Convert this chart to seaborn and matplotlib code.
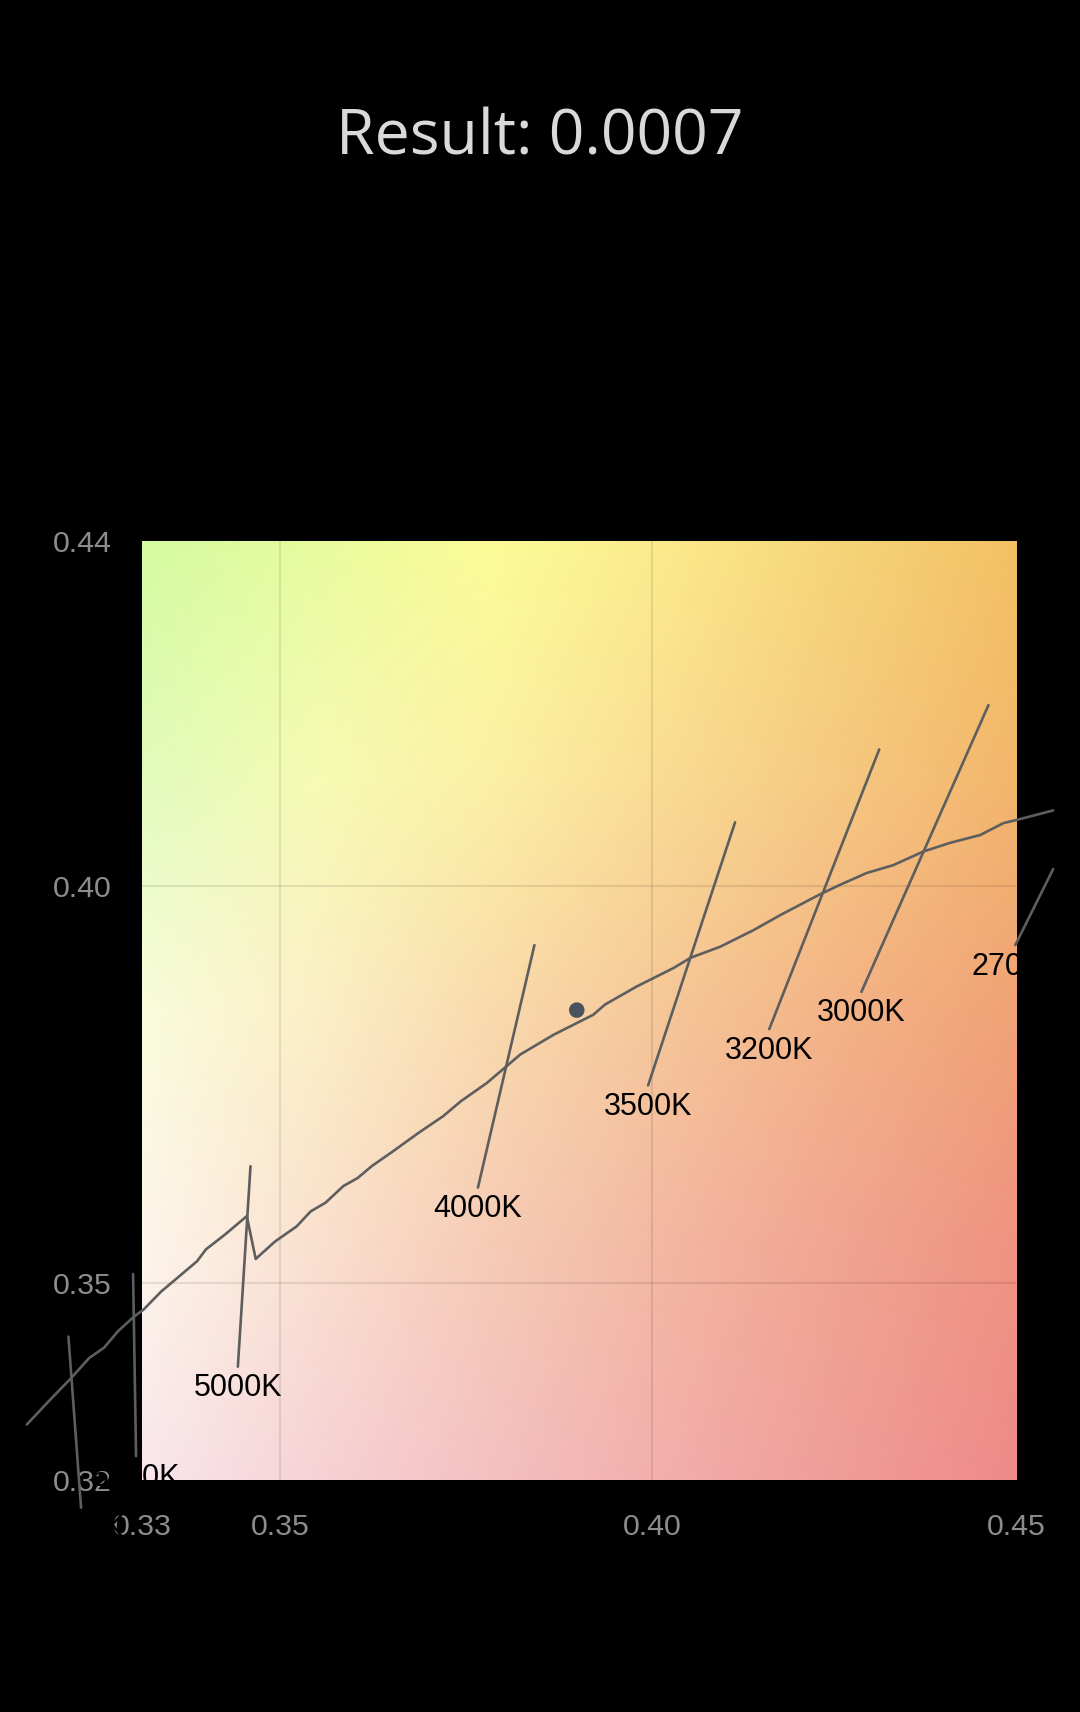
import numpy as np
import pandas as pd
import matplotlib
matplotlib.use("Agg")
import matplotlib.pyplot as plt
import seaborn as sns

# ---------------- data ----------------
title_text = "Result: 0.0007"

locus_x = [0.3159, 0.3186, 0.3219, 0.3243, 0.3263, 0.3282, 0.3303, 0.3316, 0.3340,
           0.3364, 0.3388, 0.3400, 0.3426, 0.3455, 0.3467, 0.3493, 0.3522, 0.3541,
           0.3561, 0.3585, 0.3604, 0.3623, 0.3652, 0.3686, 0.3719, 0.3743, 0.3778,
           0.3823, 0.3868, 0.3921, 0.3937, 0.3980, 0.4029, 0.4052, 0.4092, 0.4137,
           0.4173, 0.4226, 0.4253, 0.4289, 0.4325, 0.4365, 0.4401, 0.4442, 0.4473,
           0.4491, 0.4540]
locus_y = [0.3321, 0.3348, 0.3380, 0.3405, 0.3418, 0.3439, 0.3457, 0.3466, 0.3489,
           0.3508, 0.3527, 0.3542, 0.3561, 0.3584, 0.3530, 0.3552, 0.3571, 0.3590,
           0.3601, 0.3622, 0.3632, 0.3647, 0.3666, 0.3689, 0.3710, 0.3729, 0.3752,
           0.3788, 0.3813, 0.3838, 0.3851, 0.3874, 0.3897, 0.3910, 0.3924, 0.3945,
           0.3964, 0.3990, 0.4002, 0.4017, 0.4027, 0.4044, 0.4055, 0.4065, 0.4080,
           0.4084, 0.4096]

iso_labels = ["6500K", "5700K", "5000K", "4000K", "3500K", "3200K", "3000K", "2700K"]
iso_x_top = [0.3215, 0.3302, 0.3460, 0.3842, 0.4112, 0.4306, 0.4453, 0.4540]
iso_y_top = [0.3432, 0.3511, 0.3647, 0.3926, 0.4081, 0.4173, 0.4229, 0.4022]
iso_x_bot = [0.3232, 0.3306, 0.3443, 0.3766, 0.3995, 0.4158, 0.4282, 0.4489]
iso_y_bot = [0.3216, 0.3281, 0.3394, 0.3620, 0.3749, 0.3820, 0.3867, 0.3926]

point_x = [0.3899]
point_y = [0.3844]

x_limits = [0.3314, 0.4490]
y_limits = [0.3251, 0.4436]
x_tick_values = [0.3314, 0.35, 0.40, 0.4490]
x_tick_labels = ["0.33", "0.35", "0.40", "0.45"]
y_tick_values = [0.3251, 0.35, 0.40, 0.4436]
y_tick_labels = ["0.32", "0.35", "0.40", "0.44"]

# ---------------- style ----------------
grad_rows = [
    ["#d4fba0", "#e8fb9e", "#fcfc98", "#fbea8c", "#f6d478", "#f3c163"],
    ["#e2fbbc", "#f6fbb4", "#fcf0a4", "#f9dc92", "#f6c880", "#f2b66c"],
    ["#f9fcdc", "#fcefc6", "#f9daac", "#f6c698", "#f3b386", "#f1a276"],
    ["#fdf5ea", "#fae0ce", "#f6cbb6", "#f3b7a2", "#f1a490", "#ef9380"],
    ["#f9e6ec", "#f6d2d6", "#f4c0c0", "#f2aeab", "#f09c99", "#ee8a8a"],
]

sns.set_style("white", {"axes.axisbelow": True})
plt.rcParams["font.family"] = ["Liberation Sans", "DejaVu Sans"]

fig = plt.figure(figsize=(10.8, 17.12), dpi=100, facecolor="black")
ax = fig.add_axes([0.13148, 0.13551, 0.80926, 0.54848])
ax.set_facecolor("black")

# gradient background
grid = np.array([[matplotlib.colors.to_rgb(c) for c in row] for row in grad_rows])
nr, nc = grid.shape[:2]
H, W = 300, 300
yy = np.linspace(0, nr - 1, H)
xx = np.linspace(0, nc - 1, W)
y0 = np.clip(np.floor(yy).astype(int), 0, nr - 2)
x0 = np.clip(np.floor(xx).astype(int), 0, nc - 2)
fy = (yy - y0)[:, None, None]
fx = (xx - x0)[None, :, None]
c00 = grid[y0][:, x0]
c01 = grid[y0][:, x0 + 1]
c10 = grid[y0 + 1][:, x0]
c11 = grid[y0 + 1][:, x0 + 1]
img = (c00 * (1 - fx) * (1 - fy) + c01 * fx * (1 - fy)
       + c10 * (1 - fx) * fy + c11 * fx * fy)
ax.imshow(img, extent=[x_limits[0], x_limits[1], y_limits[0], y_limits[1]],
          origin="upper", aspect="auto", zorder=0, interpolation="bilinear")

line_col = "#5e5e5e"
sns.lineplot(x=locus_x, y=locus_y, sort=False, estimator=None, color=line_col,
             lw=1.9, clip_on=False, ax=ax, zorder=3)

iso_df = pd.DataFrame({
    "cct": iso_labels + iso_labels,
    "x": iso_x_top + iso_x_bot,
    "y": iso_y_top + iso_y_bot,
})
sns.lineplot(data=iso_df, x="x", y="y", units="cct", estimator=None, sort=False,
             color=line_col, lw=1.9, clip_on=False, ax=ax, legend=False, zorder=3)

for lab, xb, yb in zip(iso_labels, iso_x_bot, iso_y_bot):
    ax.annotate(lab, xy=(xb, yb), xytext=(0, -15.5), textcoords="offset points",
                ha="center", va="center", fontsize=22, color="#000000",
                family=["Liberation Sans", "DejaVu Sans"], zorder=5,
                annotation_clip=False)

sns.scatterplot(x=point_x, y=point_y, s=125, color="#4a535d", edgecolor="none",
                ax=ax, zorder=6, legend=False)

ax.set_xlim(x_limits)
ax.set_ylim(y_limits)
ax.set_xticks(x_tick_values, labels=x_tick_labels)
ax.set_yticks(y_tick_values, labels=y_tick_labels)
ax.tick_params(axis="x", length=0, pad=24, labelsize=21.8, colors="#8c8c8c")
ax.tick_params(axis="y", length=0, pad=22, labelsize=21.8, colors="#8c8c8c")
ax.set_xlabel("")
ax.set_ylabel("")
ax.grid(True, color="#000000", alpha=0.09, lw=1.5)
for axis in (ax.xaxis, ax.yaxis):
    ticks = axis.get_major_ticks()
    ticks[0].gridline.set_visible(False)
    ticks[-1].gridline.set_visible(False)
for s in ax.spines.values():
    s.set_visible(False)

fig.text(0.5, 1 - 138 / 1712, title_text, ha="center", va="center",
         fontsize=45, color="#d9d9d9", family=["Open Sans", "DejaVu Sans"])

fig.savefig("out.png", dpi=100, facecolor="black")
